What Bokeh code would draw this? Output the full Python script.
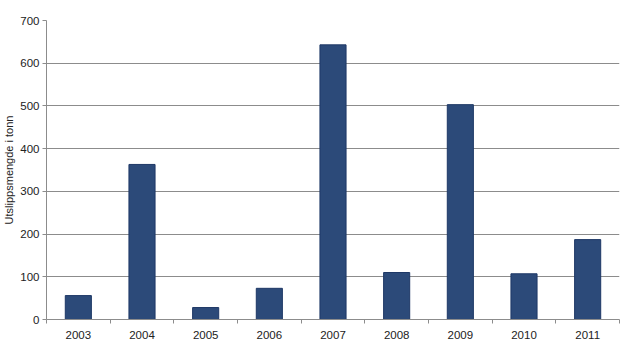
from bokeh.plotting import figure
from bokeh.models import ColumnDataSource, FixedTicker, Range1d
from bokeh.embed import file_html
from bokeh.resources import INLINE

years = ["2003", "2004", "2005", "2006", "2007", "2008", "2009", "2010", "2011"]
values = [56, 363, 28, 73, 643, 110, 503, 107, 187]
y_ticks = [0, 100, 200, 300, 400, 500, 600, 700]
y_label = "Utslippsmengde i tonn"

centers = [i + 0.5 for i in range(len(years))]
src = ColumnDataSource(dict(x=centers, top=values, year=years))

p = figure(width=620, height=354, output_backend="svg", toolbar_location=None,
           x_range=Range1d(0, len(years)), y_range=Range1d(0, 700),
           min_border_left=40, min_border_right=1, min_border_top=20, min_border_bottom=35)
p.outline_line_color = None
p.background_fill_color = "white"
p.border_fill_color = "white"

p.vbar(x="x", top="top", width=0.41, source=src, fill_color="#2C4A79",
       line_color="#1E3866", line_width=1)

p.xgrid.visible = False
p.ygrid.ticker = FixedTicker(ticks=y_ticks)
p.ygrid.grid_line_color = "#8C8C8C"
p.ygrid.grid_line_width = 1

font = "Liberation Sans"
p.yaxis.ticker = FixedTicker(ticks=y_ticks)
p.yaxis.axis_label = y_label
p.yaxis.axis_label_text_font = font
p.yaxis.axis_label_text_font_size = "11px"
p.yaxis.axis_label_text_font_style = "normal"
p.yaxis.axis_label_text_color = "#222222"
p.yaxis.axis_label_standoff = 2
p.yaxis.major_label_text_font = font
p.yaxis.major_label_text_font_size = "11.5px"
p.yaxis.major_label_text_color = "#222222"
p.yaxis.major_tick_out = 4
p.yaxis.major_tick_in = 0
p.yaxis.minor_tick_line_color = None
p.yaxis.axis_line_color = "#8C8C8C"
p.yaxis.major_tick_line_color = "#8C8C8C"
p.yaxis.major_label_standoff = 3

p.xaxis.ticker = FixedTicker(ticks=centers, minor_ticks=list(range(len(years) + 1)))
p.xaxis.major_label_overrides = {c: y for c, y in zip(centers, years)}
p.xaxis.major_label_text_font = font
p.xaxis.major_label_text_font_size = "11.5px"
p.xaxis.major_label_text_color = "#222222"
p.xaxis.major_tick_line_color = None
p.xaxis.minor_tick_out = 4
p.xaxis.minor_tick_in = 0
p.xaxis.minor_tick_line_color = "#8C8C8C"
p.xaxis.axis_line_color = "#8C8C8C"
p.xaxis.major_label_standoff = 5

open("out.html", "w").write(file_html(p, INLINE))
